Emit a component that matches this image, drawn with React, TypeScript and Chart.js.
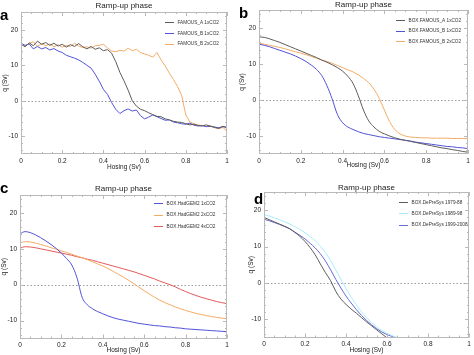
import React, { useEffect, useRef } from "react";
import { Chart, registerables } from "chart.js";

Chart.register(...registerables);

const FONT = "'Liberation Sans', Arial, Helvetica, sans-serif";
const PANEL_TITLE = "Ramp-up phase";
const X_TITLE = "Hosing (Sv)";
const Y_TITLE = "q (Sv)";
const X_TICKS = [0, 0.2, 0.4, 0.6, 0.8, 1];
const X_TICK_LABELS = ["0", "0.2", "0.4", "0.6", "0.8", "1"];
const Y_TICKS = [-10, 0, 10, 20];
const Y_TICK_LABELS = ["-10", "0", "10", "20"];
const X_MIN = 0;
const X_MAX = 1;
const Y_MIN = -15;
const Y_MAX = 25;

// ---------- panel a (model output, noisy) ----------
const X_A = [
  0, 0.02, 0.04, 0.06, 0.08, 0.1, 0.12, 0.14, 0.16, 0.18, 0.2, 0.22, 0.24, 0.26, 0.28, 0.3, 0.32,
  0.34, 0.36, 0.38, 0.4, 0.42, 0.44, 0.46, 0.48, 0.5, 0.52, 0.54, 0.56, 0.58, 0.6, 0.62, 0.64, 0.66,
  0.68, 0.7, 0.72, 0.74, 0.76, 0.78, 0.8, 0.82, 0.84, 0.86, 0.88, 0.9, 0.92, 0.94, 0.96, 0.98, 1,
];
const A_FAMOUS_A_1X = [
  16.0, 15.2, 16.3, 15.5, 16.8, 15.9, 16.4, 15.6, 16.2, 15.4, 15.9, 15.1, 15.8, 15.3, 16.1, 15.2, 14.6,
  15.3, 14.5, 14.9, 14.1, 14.4, 13.4, 11.0, 8.0, 5.6, 3.0, 0.0, -1.5, -2.4, -2.8, -3.4, -3.9, -4.4,
  -4.5, -5.1, -5.4, -5.8, -6.0, -6.1, -6.5, -6.8, -6.6, -7.0, -7.1, -6.8, -7.2, -7.5, -7.8, -7.2, -7.6,
];
const A_FAMOUS_B_1X = [
  16.2, 15.6, 16.0, 14.6, 15.3, 14.6, 15.0, 14.3, 14.7, 14.0, 13.6, 12.8, 12.4, 12.0, 11.5, 10.8, 10.0,
  9.2, 7.5, 5.5, 3.2, 1.8, -0.5, -2.4, -3.6, -2.8, -2.3, -2.9, -2.6, -4.2, -5.1, -4.6, -4.0, -4.5,
  -5.0, -5.5, -5.4, -6.0, -6.2, -6.5, -6.6, -6.3, -6.9, -7.1, -7.0, -7.3, -7.2, -7.4, -7.6, -7.3, -7.5,
];
const A_FAMOUS_B_2X = [
  16.0, 15.4, 16.2, 16.6, 15.3, 16.1, 15.5, 16.0, 15.2, 15.8, 15.1, 15.6, 15.3, 16.2, 15.4, 15.0, 15.2,
  14.8, 15.5, 15.6, 15.9, 14.9, 14.0, 13.8, 14.2, 14.0, 14.8, 14.1, 14.5, 13.6, 13.2, 12.8, 12.3, 13.6,
  11.5, 9.8, 7.8, 6.0, 4.0, 1.5, -4.0, -6.0, -6.5, -6.8, -7.0, -7.2, -7.0, -7.6, -7.9, -7.5, -8.6,
];

// ---------- panels b, c, d (box model, smooth) ----------
const X_S = [
  0, 0.025, 0.05, 0.075, 0.1, 0.125, 0.15, 0.175, 0.2, 0.225, 0.25, 0.275, 0.3, 0.325, 0.35, 0.375,
  0.4, 0.425, 0.45, 0.475, 0.5, 0.525, 0.55, 0.575, 0.6, 0.625, 0.65, 0.675, 0.7, 0.725, 0.75, 0.775,
  0.8, 0.825, 0.85, 0.875, 0.9, 0.925, 0.95, 0.975, 1,
];
const B_FAMOUS_A_1X = [
  17.5, 17.4, 17.0, 16.5, 16.0, 15.4, 14.8, 14.2, 13.6, 13.0, 12.4, 11.8, 11.1, 10.5, 9.8, 9.0, 8.0,
  6.6, 4.6, 1.2, -2.8, -5.8, -7.5, -8.7, -9.4, -10.0, -10.5, -10.9, -11.2, -11.5, -11.8, -12.1, -12.4,
  -12.7, -13.0, -13.3, -13.5, -13.8, -14.0, -14.3, -14.5,
];
const B_FAMOUS_B_1X = [
  15.5, 15.2, 14.8, 14.3, 13.8, 13.3, 12.8, 12.2, 11.5, 10.7, 9.7, 8.5, 6.8, 4.0, 0.3, -4.0, -6.3,
  -7.5, -8.2, -8.8, -9.3, -9.6, -9.9, -10.2, -10.4, -10.6, -10.8, -11.0, -11.2, -11.4, -11.7, -11.9,
  -12.1, -12.3, -12.5, -12.7, -12.9, -13.0, -13.2, -13.3, -13.5,
];
const B_FAMOUS_B_2X = [
  15.8, 15.5, 15.2, 14.9, 14.6, 14.2, 13.8, 13.4, 13.0, 12.6, 12.1, 11.6, 11.1, 10.7, 10.2, 9.6, 9.0,
  8.4, 7.8, 7.0, 6.0, 4.8, 3.0, 0.5, -2.8, -6.0, -8.2, -9.4, -10.0, -10.3, -10.4, -10.5, -10.5, -10.6,
  -10.6, -10.6, -10.6, -10.7, -10.7, -10.7, -10.7,
];
const C_HADGEM2_1X = [
  14.2, 14.8, 14.5, 13.9, 13.1, 12.2, 11.2, 10.1, 8.8, 7.3, 5.5, 2.0, -3.5, -5.6, -6.7, -7.5, -8.1,
  -8.7, -9.2, -9.6, -9.9, -10.2, -10.5, -10.8, -11.0, -11.2, -11.4, -11.5, -11.7, -11.8, -12.0, -12.1,
  -12.3, -12.4, -12.5, -12.6, -12.7, -12.8, -12.9, -13.0, -13.1,
];
const C_HADGEM2_2X = [
  11.6, 12.0, 11.9, 11.6, 11.2, 10.8, 10.3, 9.9, 9.4, 9.0, 8.5, 8.0, 7.5, 7.0, 6.4, 5.8, 5.2, 4.5,
  3.7, 2.9, 2.1, 1.2, 0.3, -0.7, -1.7, -2.6, -3.5, -4.3, -5.0, -5.6, -6.2, -6.7, -7.2, -7.6, -8.0,
  -8.3, -8.6, -8.9, -9.1, -9.3, -9.5,
];
const C_HADGEM2_4X = [
  10.2, 10.6, 10.5, 10.3, 10.0, 9.7, 9.4, 9.1, 8.8, 8.5, 8.2, 7.8, 7.5, 7.1, 6.8, 6.4, 6.0, 5.6, 5.2,
  4.8, 4.4, 4.0, 3.6, 3.1, 2.6, 2.1, 1.6, 1.0, 0.5, 0.0, -0.6, -1.3, -1.9, -2.5, -3.0, -3.5, -3.9,
  -4.3, -4.7, -5.0, -5.3,
];
const D_DEPRESYS_1979 = [
  18.0, 17.4, 16.8, 16.2, 15.6, 14.9, 13.9, 12.8, 11.4, 9.7, 7.7, 5.2, 2.8, 0.6, -2.3, -4.4, -5.9,
  -7.2, -8.3, -9.5, -10.7, -11.8, -12.9, -14.0, -15.1, -16.0,
];
const D_DEPRESYS_1989 = [
  18.8, 18.4, 17.9, 17.4, 16.8, 16.2, 15.5, 14.7, 13.8, 12.8, 11.6, 10.1, 8.3, 6.1, 3.6, 1.0, -1.5,
  -3.9, -6.0, -7.9, -9.5, -10.9, -12.1, -13.1, -13.9, -14.5, -15.0, -15.4, -15.8,
];
const D_DEPRESYS_1999 = [
  17.5, 17.1, 16.6, 16.1, 15.5, 14.9, 14.0, 13.1, 12.1, 10.9, 9.6, 8.0, 6.0, 3.6, 1.0, -1.4, -3.6,
  -5.5, -7.3, -8.9, -10.3, -11.5, -12.6, -13.5, -14.2, -14.7, -15.2, -15.6,
];

const GRAY = "#5c5c5c";
const BLUE = "#5252d8";
const ORANGE = "#f4ab66";
const RED = "#e25a5a";
const CYAN = "#a9ecff";
const BLUE_D = "#6a6ad2";

type Series = { label: string; color: string; values: number[] };
type Spec = {
  letter: string;
  xs: number[];
  smooth: boolean;
  series: Series[];
  left: number;
  top: number;
  w: number;
  h: number;
  L: number;
  R: number;
  T: number;
  B: number;
  padL: number;
  xTitleY: number;
  titleY: number;
  letterX: number;
  letterY: number;
  legendX: number;
  legendY: number;
  legendGap: number;
};

const PANELS: Spec[] = [
  {
    letter: "a", xs: X_A, smooth: false,
    series: [
      { label: "FAMOUS_A 1xCO2", color: GRAY, values: A_FAMOUS_A_1X },
      { label: "FAMOUS_B 1xCO2", color: BLUE, values: A_FAMOUS_B_1X },
      { label: "FAMOUS_B 2xCO2", color: ORANGE, values: A_FAMOUS_B_2X },
    ],
    left: 0, top: 0, w: 237, h: 178, L: 21, R: 227, T: 12, B: 154, padL: 1,
    xTitleY: 167, titleY: 6, letterX: 0, letterY: 16, legendX: 165, legendY: 22, legendGap: 10.8,
  },
  {
    letter: "b", xs: X_S, smooth: true,
    series: [
      { label: "BOX.FAMOUS_A 1xCO2", color: GRAY, values: B_FAMOUS_A_1X },
      { label: "BOX.FAMOUS_B 1xCO2", color: BLUE, values: B_FAMOUS_B_1X },
      { label: "BOX.FAMOUS_B 2xCO2", color: ORANGE, values: B_FAMOUS_B_2X },
    ],
    left: 237, top: 0, w: 237, h: 178, L: 22, R: 231, T: 10, B: 154, padL: 1,
    xTitleY: 165, titleY: 5, letterX: 2, letterY: 14, legendX: 159, legendY: 20, legendGap: 10.7,
  },
  {
    letter: "c", xs: X_S, smooth: true,
    series: [
      { label: "BOX.HadGEM2 1xCO2", color: BLUE, values: C_HADGEM2_1X },
      { label: "BOX.HadGEM2 2xCO2", color: ORANGE, values: C_HADGEM2_2X },
      { label: "BOX.HadGEM2 4xCO2", color: RED, values: C_HADGEM2_4X },
    ],
    left: 0, top: 178, w: 237, h: 177, L: 20, R: 227, T: 17, B: 160.5, padL: 0,
    xTitleY: 172.5, titleY: 11, letterX: 0, letterY: 11, legendX: 154, legendY: 25, legendGap: 11.6,
  },
  {
    letter: "d", xs: X_S, smooth: true,
    series: [
      { label: "BOX.DePreSys 1979-88", color: GRAY, values: D_DEPRESYS_1979 },
      { label: "BOX.DePreSys 1989-98", color: CYAN, values: D_DEPRESYS_1989 },
      { label: "BOX.DePreSys 1999-2008", color: BLUE_D, values: D_DEPRESYS_1999 },
    ],
    left: 237, top: 178, w: 237, h: 177, L: 27, R: 232, T: 14, B: 159.5, padL: 10,
    xTitleY: 172.5, titleY: 9.3, letterX: 17, letterY: 22, legendX: 162, legendY: 24, legendGap: 11.3,
  },
];

const AXIS_TITLE_SIZE = 6.5;
const TICK_SIZE = 6.5;

function decorPlugin(spec: Spec) {
  return {
    id: "decor" + spec.letter,
    beforeDatasetsDraw(chart: any) {
      const { ctx, chartArea } = chart;
      const y = chart.scales.y;
      const py = Math.round(y.getPixelForValue(0)) + 0.5;
      ctx.save();
      ctx.strokeStyle = "#9a9a9a";
      ctx.lineWidth = 1;
      ctx.setLineDash([1.5, 2]);
      ctx.beginPath();
      ctx.moveTo(chartArea.left, py);
      ctx.lineTo(chartArea.right, py);
      ctx.stroke();
      ctx.restore();
    },
    afterDraw(chart: any) {
      const { ctx, chartArea } = chart;
      const { left, right, top, bottom } = chartArea;
      const xs = chart.scales.x;
      const ys = chart.scales.y;
      ctx.save();
      // frame
      ctx.strokeStyle = "#b9b9b9";
      ctx.lineWidth = 1;
      ctx.strokeRect(Math.round(left) + 0.5, Math.round(top) + 0.5, Math.round(right - left) - 1, Math.round(bottom - top) - 1);
      // ticks
      ctx.beginPath();
      for (let k = 0; k <= 20; k++) {
        const v = k * 0.05;
        const len = k % 4 === 0 ? 4 : 2;
        const px = Math.round(xs.getPixelForValue(v)) + 0.5;
        ctx.moveTo(px, bottom);
        ctx.lineTo(px, bottom - len);
        ctx.moveTo(px, top);
        ctx.lineTo(px, top + len);
      }
      for (let v = -14; v <= 24; v += 2) {
        const len = v % 10 === 0 ? 4 : 2;
        const py = Math.round(ys.getPixelForValue(v)) + 0.5;
        ctx.moveTo(left, py);
        ctx.lineTo(left + len, py);
        ctx.moveTo(right, py);
        ctx.lineTo(right - len, py);
      }
      ctx.stroke();
      // title
      ctx.fillStyle = "#222";
      ctx.font = `8px ${FONT}`;
      ctx.textAlign = "center";
      ctx.textBaseline = "middle";
      ctx.fillText(PANEL_TITLE, (left + right) / 2, spec.titleY);
      // letter
      ctx.font = `bold 15px ${FONT}`;
      ctx.textAlign = "left";
      ctx.fillStyle = "#000";
      ctx.fillText(spec.letter, spec.letterX, spec.letterY);
      // legend
      ctx.font = `4.7px ${FONT}`;
      spec.series.forEach((s, i) => {
        const yy = spec.legendY + i * spec.legendGap;
        ctx.strokeStyle = s.color;
        ctx.lineWidth = 1;
        ctx.beginPath();
        ctx.moveTo(spec.legendX, Math.round(yy) + 0.5);
        ctx.lineTo(spec.legendX + 9, Math.round(yy) + 0.5);
        ctx.stroke();
        ctx.fillStyle = "#333";
        ctx.fillText(s.label, spec.legendX + 12.5, yy + 0.5);
      });
      ctx.restore();
    },
  };
}

function Panel({ spec }: { spec: Spec }) {
  const ref = useRef<HTMLCanvasElement>(null);
  useEffect(() => {
    const lineH = AXIS_TITLE_SIZE * 1.2;
    const padB = Math.max(0, spec.h - spec.xTitleY - lineH / 2);
    const chart = new Chart(ref.current as HTMLCanvasElement, {
      type: "line",
      data: {
        datasets: spec.series.map((s) => ({
          label: s.label,
          data: s.values.map((v, i) => ({ x: spec.xs[i], y: v })),
          borderColor: s.color,
          backgroundColor: s.color,
          borderWidth: 1,
          pointRadius: 0,
          fill: false,
          tension: 0,
          cubicInterpolationMode: spec.smooth ? "monotone" : "default",
        })),
      },
      options: {
        responsive: false,
        animation: false,
        devicePixelRatio: 1,
        layout: {
          padding: { left: spec.padL, right: spec.w - spec.R, top: spec.T, bottom: padB },
        },
        plugins: {
          legend: { display: false },
          title: { display: false },
          tooltip: { enabled: false },
        },
        scales: {
          x: {
            type: "linear",
            min: X_MIN,
            max: X_MAX,
            grid: { display: false, drawTicks: false },
            border: { display: false },
            afterBuildTicks: (scale: any) => {
              scale.ticks = X_TICKS.map((v) => ({ value: v }));
            },
            afterFit: (scale: any) => {
              scale.height = spec.h - padB - spec.B;
            },
            ticks: {
              autoSkip: false,
              maxRotation: 0,
              padding: 3,
              color: "#222",
              font: { size: TICK_SIZE, family: FONT },
              callback: (_v: any, i: number) => X_TICK_LABELS[i],
            },
            title: {
              display: true,
              text: X_TITLE,
              color: "#222",
              font: { size: AXIS_TITLE_SIZE, family: FONT },
              padding: { top: 0, bottom: 0 },
            },
          },
          y: {
            type: "linear",
            min: Y_MIN,
            max: Y_MAX,
            grid: { display: false, drawTicks: false },
            border: { display: false },
            afterBuildTicks: (scale: any) => {
              scale.ticks = Y_TICKS.map((v) => ({ value: v }));
            },
            afterFit: (scale: any) => {
              scale.width = spec.L - spec.padL;
            },
            ticks: {
              autoSkip: false,
              padding: 3,
              color: "#222",
              font: { size: TICK_SIZE, family: FONT },
              callback: (_v: any, i: number) => Y_TICK_LABELS[i],
            },
            title: {
              display: true,
              text: Y_TITLE,
              color: "#222",
              font: { size: AXIS_TITLE_SIZE, family: FONT },
              padding: { top: 0, bottom: 0 },
            },
          },
        },
      },
      plugins: [decorPlugin(spec)],
    } as any);
    return () => chart.destroy();
  }, [spec]);
  return (
    <canvas
      ref={ref}
      width={spec.w}
      height={spec.h}
      style={{ position: "absolute", left: spec.left, top: spec.top, width: spec.w, height: spec.h }}
    />
  );
}

export default function App() {
  return (
    <div style={{ position: "absolute", left: 0, top: 0, width: 474, height: 355, background: "#fff" }}>
      {PANELS.map((p) => (
        <Panel key={p.letter} spec={p} />
      ))}
    </div>
  );
}
